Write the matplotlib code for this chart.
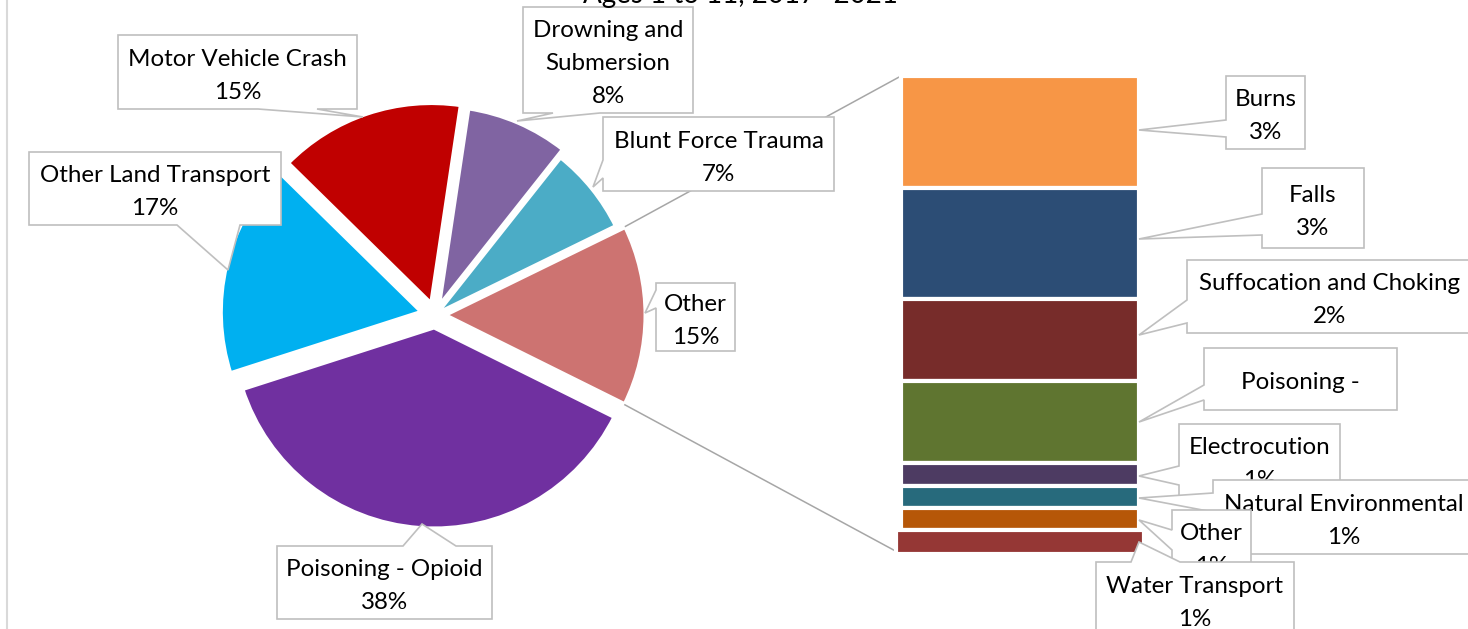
import matplotlib
matplotlib.use("Agg")
import matplotlib.pyplot as plt
from matplotlib.patches import Polygon
import numpy as np

# ---------------- data ----------------
title = "Ages 1 to 11, 2017- 2021"

pie_names = ["Drowning and Submersion", "Blunt Force Trauma", "Other",
             "Poisoning - Opioid", "Other Land Transport", "Motor Vehicle Crash"]
pie_main_values = [8.3, 7.1, None, 37.7, 17.3, 15.0]   # "Other" = sum of bar values
pie_colors = ["#8064A2", "#4BACC6", "#CD7371", "#7030A0", "#00B0F0", "#C00000"]

bar_names = ["Burns", "Falls", "Suffocation and Choking", "Poisoning -",
             "Electrocution", "Natural Environmental", "Other", "Water Transport"]
bar_values = [3.4, 3.4, 2.49, 2.49, 0.70, 0.68, 0.68, 0.72]
bar_colors = ["#F79646", "#2C4D75", "#772C2A", "#5F7530",
              "#4D3B62", "#276A7C", "#B65708", "#953735"]
bar_show_pct = [True, True, True, False, True, True, True, True]

wrap = {"Drowning and Submersion": ["Drowning and", "Submersion"]}

# ---------------- layout (pixel space, y downward) ----------------
W, H = 1468, 629
DPI = 100
FONT = "Lato"

pie_cx, pie_cy, pie_r = 435, 315, 202
pie_explode = [8, 0, 9, 12, 13, 11]          # px offsets per slice
pie_start = 81.5                              # 8.5 deg clockwise from 12 o'clock
bar_cx, bar_top, bar_w, bar_total_h = 1020, 76, 238, 478

# callout boxes: (x0, y0, x1, y1), edge, base(a, b), tip(x, y)
pie_callouts = [
    ((523, 7, 693, 113), "bottom", (553, 600), (517, 121)),
    ((603, 117, 834, 191), "left", (160, 178), (593, 187)),
    ((656, 283, 735, 351), "left", (290, 308), (645, 313)),
    ((277, 546, 492, 619), "top", (403, 456), (422, 524)),
    ((29, 152, 281, 225), "bottom", (177, 240), (228, 270)),
    ((118, 35, 357, 109), "bottom", (258, 317), (363, 117)),
]
bar_callouts = [
    ((1226, 76, 1305, 149), "left", (120, 137), (1139, 130)),
    ((1262, 168, 1364, 248), "left", (214, 235), (1139, 239)),
    ((1187, 260, 1472, 333), "left", (300, 323), (1139, 335)),
    ((1204, 348, 1397, 410), "left", (385, 400), (1139, 422)),
    ((1179, 424, 1340, 496), "left", (466, 485), (1139, 476)),
    ((1213, 480, 1474, 554), "left", (493, 512), (1139, 498)),
    ((1172, 510, 1251, 582), "left", (530, 550), (1139, 520)),
    ((1096, 562, 1294, 636), "top", (1131, 1180), (1139, 542)),
]


def P(x, y):
    return (x, H - y)


fig = plt.figure(figsize=(W / DPI, H / DPI), dpi=DPI)
ax = fig.add_axes([0, 0, 1, 1])
renderer = fig.canvas.get_renderer()


def fit_size(s, target_px):
    t = fig.text(0, 0, s, fontsize=20, family=FONT)
    w = t.get_window_extent(renderer).width
    t.remove()
    return 20 * target_px / w


FS = fit_size("Motor Vehicle Crash", 219)
FS_TITLE = fit_size(title, 314)

# ---------------- pie ----------------
other_total = sum(bar_values)
pie_values = [other_total if v is None else v for v in pie_main_values]
total = sum(pie_values)

wedges, _ = ax.pie(pie_values, colors=pie_colors, startangle=pie_start, counterclock=False,
                   radius=pie_r, center=P(pie_cx, pie_cy), explode=pie_explode,
                   wedgeprops=dict(linewidth=3.6, edgecolor="white"))

# ---------------- bar ----------------
k = bar_total_h / other_total
cum = np.cumsum([0] + bar_values[:-1])
heights = [v * k for v in bar_values]
bottoms = [H - bar_top - (c + v) * k for c, v in zip(cum, bar_values)]
for i, (h, b, c) in enumerate(zip(heights, bottoms, bar_colors)):
    last = i == len(bar_values) - 1
    ax.bar(bar_cx, h, bottom=b, width=bar_w + (10 if last else 0), color=c,
           edgecolor="white", linewidth=3.0, zorder=4 if last else 3)

# connector lines from the "Other" slice to the bar
ow = wedges[pie_names.index("Other")]
c0 = np.array(ow.center)
bar_left = bar_cx - bar_w / 2
bar_bottom_y = H - bar_top - other_total * k
ca = c0 + ow.r * np.array([np.cos(np.radians(ow.theta2)), np.sin(np.radians(ow.theta2))])
cb = c0 + ow.r * np.array([np.cos(np.radians(ow.theta1)), np.sin(np.radians(ow.theta1))])
corner_top, corner_bot = (ca, cb) if ca[1] > cb[1] else (cb, ca)
ax.plot([corner_top[0], bar_left], [corner_top[1], H - bar_top], color="#A6A6A6", lw=1.1, zorder=2)
ax.plot([corner_bot[0], bar_left], [corner_bot[1], bar_bottom_y], color="#A6A6A6", lw=1.1, zorder=2)


# ---------------- callouts ----------------
def callout(box, edge, base, tip, lines, z):
    x0, y0, x1, y1 = box
    a, b = base
    pts = [(x0, y0)]
    if edge == "top":
        pts += [(a, y0), tip, (b, y0)]
    pts += [(x1, y0)]
    if edge == "right":
        pts += [(x1, a), tip, (x1, b)]
    pts += [(x1, y1)]
    if edge == "bottom":
        pts += [(b, y1), tip, (a, y1)]
    pts += [(x0, y1)]
    if edge == "left":
        pts += [(x0, b), tip, (x0, a)]
    poly = Polygon([P(*p) for p in pts], closed=True, facecolor="white",
                   edgecolor="#BFBFBF", linewidth=1.2, joinstyle="miter", zorder=z)
    ax.add_patch(poly)
    cxm, cym = (x0 + x1) / 2, (y0 + y1) / 2 + 1.5
    n = len(lines)
    fs_px = FS * DPI / 72
    for i, s in enumerate(lines):
        yc = cym + (i - (n - 1) / 2) * 33
        ax.text(*P(cxm, yc + 0.36 * fs_px), s, ha="center", va="baseline",
                fontsize=FS, family=FONT, color="black", zorder=z + 0.5)


z = 10
for name, v, (box, edge, base, tip) in zip(pie_names, pie_values, pie_callouts):
    lines = wrap.get(name, [name]) + [f"{round(v / total * 100)}%"]
    callout(box, edge, base, tip, lines, z)
    z += 1
for name, v, show, (box, edge, base, tip) in zip(bar_names, bar_values, bar_show_pct, bar_callouts):
    lines = wrap.get(name, [name]) + ([f"{round(v / total * 100)}%"] if show else [])
    callout(box, edge, base, tip, lines, z)
    z += 1

# title (clipped at the top edge, as in the reference)
ax.text(*P(740, 3), title, ha="center", va="baseline", fontsize=FS_TITLE, family=FONT,
        color="black", zorder=50)

# left chart border
ax.plot([7, 7], [0, H], color="#D9D9D9", lw=1.5, zorder=1)

ax.set_xlim(0, W)
ax.set_ylim(0, H)
ax.set_aspect("auto")
ax.axis("off")
fig.savefig("out.png", dpi=DPI)
